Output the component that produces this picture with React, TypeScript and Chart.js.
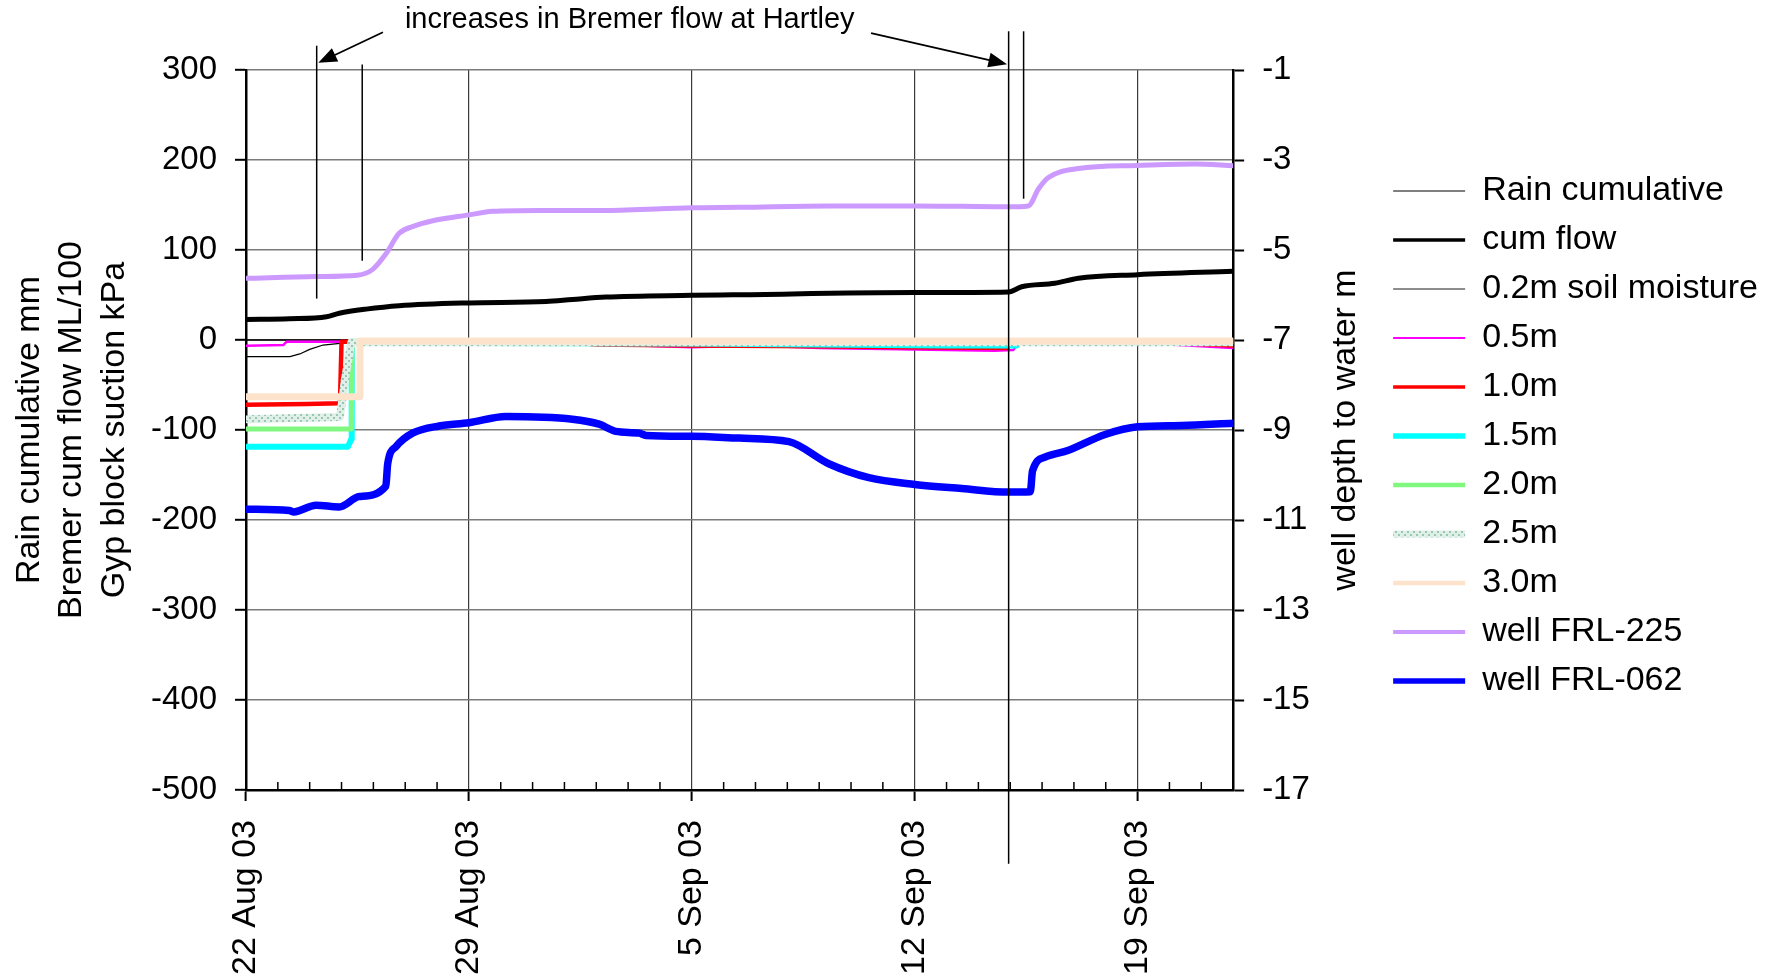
import React, { useEffect, useRef } from "react";
import { Chart, registerables } from "chart.js";

Chart.register(...registerables);

const FONT = "'Liberation Sans', Arial, Helvetica, sans-serif";

// x values are days after 22 Aug 2003
const xTickDays = [0, 7, 14, 21, 28];
const xTickLabels = ["22 Aug 03", "29 Aug 03", "5 Sep 03", "12 Sep 03", "19 Sep 03"];
const xMaxDay = 31;

const leftTitle = ["Rain cumulative mm", "Bremer cum flow ML/100", "Gyp block suction kPa"];
const rightTitle = "well depth to water m";

// left axis series (mm, ML/100, kPa)
const rainDays = [0, 31];
const rainVals = [0, 0];

const flowDays = [0, 1.36, 2.53, 2.93, 3.77, 4.81, 7, 9.42, 10.25, 11.3, 14, 15.3, 21, 23.95, 24.36, 25.4, 26.14, 28, 31];
const flowVals = [22.9, 23.6, 25.9, 29.7, 34.3, 38.1, 41.2, 42.7, 45, 47.7, 49.6, 50.2, 52.7, 53.4, 59.2, 63, 68.7, 72.6, 76.4];

const sm02Days = [0, 1.38, 1.69, 2.0, 2.42, 2.95, 3.2, 31];
const sm02Vals = [-18.5, -18.5, -15.5, -10.4, -5.6, -3.7, -2, -2];

const sm05Days = [0, 1.17, 1.27, 3, 8, 10.5, 13, 14, 16, 18, 20, 22, 23.5, 24.1, 24.3, 28, 29, 31];
const sm05Vals = [-6.3, -5.6, -2, -2, -2, -4, -7, -8, -6, -9, -10, -11, -12, -11, -1, -1, -5, -9];

const sm10Days = [0, 1.9, 2.95, 3.0, 10, 11, 14, 18, 21, 23.9, 24.1, 29, 31];
const sm10Vals = [-72, -71, -70.4, -2, -2, -5, -6, -7, -8, -9, -2, -3, -6];

const sm15Days = [0, 3.2, 3.31, 3.32, 14, 18, 22, 24.2, 24.3, 31];
const sm15Vals = [-118.5, -118.5, -110, -3, -4, -5, -6, -6, -1, -1];

const sm20Days = [0, 3.31, 3.33, 31];
const sm20Vals = [-99, -99, -1, -1];

const sm25Days = [0, 2.95, 3.05, 3.1, 3.25, 3.31, 31];
const sm25Vals = [-88, -85.5, -60, -45, -15, -2.5, -2.5];

const sm30Days = [0, 3.57, 3.58, 31];
const sm30Vals = [-63, -63, -1, -1];

// right axis series (well depth to water, m)
const w225Days = [0, 2.2, 3.5, 3.98, 4.39, 4.81, 5.23, 5.86, 7, 7.74, 9.2, 11.3, 14, 15.5, 18.3, 21, 23.95, 24.57, 24.89, 25.2, 26.14, 28, 29.8, 31];
const w225Vals = [-5.63, -5.59, -5.56, -5.43, -5.09, -4.63, -4.48, -4.35, -4.22, -4.14, -4.12, -4.12, -4.06, -4.05, -4.02, -4.02, -4.04, -4.02, -3.64, -3.39, -3.19, -3.12, -3.09, -3.13];

const w062Days = [0, 1.36, 1.5, 2.2, 2.93, 3.56, 4.39, 4.45, 4.71, 5.23, 6.07, 7, 8.16, 10.25, 11.09, 11.61, 12.35, 12.56, 14, 15.49, 17.05, 18.3, 19.56, 21, 22.48, 23.95, 24.63, 24.7, 25.1, 25.83, 26.98, 28, 29.38, 31];
const w062Vals = [-10.76, -10.79, -10.82, -10.67, -10.71, -10.48, -10.25, -9.75, -9.37, -9.07, -8.91, -8.84, -8.7, -8.76, -8.87, -9.03, -9.07, -9.12, -9.14, -9.18, -9.26, -9.75, -10.06, -10.21, -10.3, -10.38, -10.37, -9.91, -9.6, -9.45, -9.1, -8.93, -8.9, -8.85];

// annotation (in data units: day, left-axis value)
const annotText = "increases in Bremer flow at Hartley";
const annotTextAt = [12.05, 356];
const annotLineDays = [2.22, 3.65, 23.95, 24.42];
const annotLineTop = [327, 306, 343, 343];
const annotLineBottom = [46, 88, -582, 157];
const arrowFrom = [[4.3, 342], [19.63, 341]];
const arrowTo = [[2.27, 308], [23.9, 306.5]];

const pts = (d: number[], v: number[]) => d.map((x, i) => ({ x, y: v[i] }));

const overlayPlugin = {
  id: "overlay",
  afterDraw(chart: any) {
    const { ctx, chartArea } = chart;
    const xs = chart.scales.x;
    const ys = chart.scales.y;
    const y2 = chart.scales.y2;
    ctx.save();
    // daily minor ticks, inside
    ctx.strokeStyle = "#000";
    ctx.lineWidth = 1.5;
    for (let d = 1; d < xMaxDay; d++) {
      if (xTickDays.includes(d)) continue;
      const px = xs.getPixelForValue(d);
      ctx.beginPath();
      ctx.moveTo(px, chartArea.bottom);
      ctx.lineTo(px, chartArea.bottom - 8);
      ctx.stroke();
    }
    // vertical markers
    ctx.lineWidth = 1.5;
    annotLineDays.forEach((d, i) => {
      const px = xs.getPixelForValue(d);
      ctx.beginPath();
      ctx.moveTo(px, ys.getPixelForValue(annotLineTop[i]));
      ctx.lineTo(px, ys.getPixelForValue(annotLineBottom[i]));
      ctx.stroke();
    });
    // arrows
    arrowFrom.forEach((f, i) => {
      const fx = xs.getPixelForValue(f[0]);
      const fy = ys.getPixelForValue(f[1]);
      const tx = xs.getPixelForValue(arrowTo[i][0]);
      const ty = ys.getPixelForValue(arrowTo[i][1]);
      const a = Math.atan2(ty - fy, tx - fx);
      const L = 20;
      const w = 0.38;
      ctx.lineWidth = 1.8;
      ctx.beginPath();
      ctx.moveTo(fx, fy);
      ctx.lineTo(tx - Math.cos(a) * L * 0.8, ty - Math.sin(a) * L * 0.8);
      ctx.stroke();
      ctx.fillStyle = "#000";
      ctx.beginPath();
      ctx.moveTo(tx, ty);
      ctx.lineTo(tx - L * Math.cos(a - w), ty - L * Math.sin(a - w));
      ctx.lineTo(tx - L * Math.cos(a + w), ty - L * Math.sin(a + w));
      ctx.closePath();
      ctx.fill();
    });
    // annotation text
    ctx.fillStyle = "#000";
    ctx.font = `29px ${FONT}`;
    ctx.textAlign = "center";
    ctx.textBaseline = "middle";
    ctx.fillText(annotText, xs.getPixelForValue(annotTextAt[0]), ys.getPixelForValue(annotTextAt[1]));
    // right axis title, reading bottom to top
    ctx.font = `34px ${FONT}`;
    ctx.translate(y2.right - 33, (chartArea.top + chartArea.bottom) / 2);
    ctx.rotate(-Math.PI / 2);
    ctx.fillText(rightTitle, 0, 0);
    ctx.restore();
  },
};

export default function App() {
  const ref = useRef<HTMLCanvasElement | null>(null);

  useEffect(() => {
    document.body.style.margin = "0";
    const canvas = ref.current;
    if (!canvas) return;
    const ctx = canvas.getContext("2d")!;

    const pc = document.createElement("canvas");
    pc.width = 6;
    pc.height = 6;
    const g = pc.getContext("2d")!;
    g.fillStyle = "#e0efe7";
    g.fillRect(0, 0, 6, 6);
    g.fillStyle = "#98c8b2";
    g.fillRect(0, 0, 2, 2);
    g.fillRect(3, 3, 2, 2);
    const hatch = ctx.createPattern(pc, "repeat") as any;

    const styles = [
      { label: "Rain cumulative", color: "#000000", width: 1.5, lw: 1.2, axis: "y", smooth: false, d: pts(rainDays, rainVals) },
      { label: "cum flow", color: "#000000", width: 5, lw: 3.6, axis: "y", smooth: true, d: pts(flowDays, flowVals) },
      { label: "0.2m soil moisture", color: "#000000", width: 1.2, lw: 0.9, axis: "y", smooth: false, d: pts(sm02Days, sm02Vals) },
      { label: "0.5m", color: "#ff00ff", width: 2.5, lw: 2, axis: "y", smooth: false, d: pts(sm05Days, sm05Vals) },
      { label: "1.0m", color: "#ff0000", width: 4.5, lw: 3.6, axis: "y", smooth: false, d: pts(sm10Days, sm10Vals) },
      { label: "1.5m", color: "#00ffff", width: 6, lw: 5.7, axis: "y", smooth: false, d: pts(sm15Days, sm15Vals) },
      { label: "2.0m", color: "#80f880", width: 5, lw: 4.4, axis: "y", smooth: false, d: pts(sm20Days, sm20Vals) },
      { label: "2.5m", color: hatch, width: 8, lw: 7, axis: "y", smooth: false, d: pts(sm25Days, sm25Vals) },
      { label: "3.0m", color: "#fde3cb", width: 7, lw: 4.4, axis: "y", smooth: false, d: pts(sm30Days, sm30Vals) },
      { label: "well FRL-225", color: "#cc99ff", width: 5, lw: 3.8, axis: "y2", smooth: true, d: pts(w225Days, w225Vals) },
      { label: "well FRL-062", color: "#0000ff", width: 7.5, lw: 5.7, axis: "y2", smooth: true, d: pts(w062Days, w062Vals) },
    ];
    const n = styles.length;

    const chart = new Chart(ctx, {
      type: "line",
      data: {
        datasets: styles.map((s, i) => ({
          label: s.label,
          data: s.d,
          borderColor: s.color,
          backgroundColor: s.color,
          borderWidth: s.width,
          pointRadius: 0,
          tension: s.smooth ? 0.4 : 0,
          cubicInterpolationMode: s.smooth ? "monotone" : "default",
          fill: false,
          yAxisID: s.axis,
          borderCapStyle: "round",
          borderJoinStyle: "round",
          order: n - i,
        })) as any,
      },
      options: {
        animation: false,
        responsive: false,
        devicePixelRatio: 1,
        events: [],
        layout: { padding: { top: 70, right: 20, bottom: 0, left: 0 } },
        plugins: {
          tooltip: { enabled: false },
          legend: {
            display: true,
            position: "right",
            align: "center",
            fullSize: false,
            maxWidth: 600,
            title: { display: true, text: " ", font: { size: 10 }, padding: 0 },
            labels: {
              color: "#000",
              font: { family: FONT, size: 34 },
              usePointStyle: true,
              pointStyle: "line",
              pointStyleWidth: 72,
              boxWidth: 72,
              padding: 15,
              generateLabels: () =>
                styles.map((s, i) => ({
                  text: s.label,
                  fillStyle: s.color,
                  strokeStyle: s.color,
                  lineWidth: s.lw,
                  pointStyle: "line",
                  hidden: false,
                  datasetIndex: i,
                  lineCap: "butt",
                  fontColor: "#000",
                })) as any,
            },
          },
        },
        scales: {
          x: {
            type: "linear",
            position: "bottom",
            min: 0,
            max: xMaxDay,
            afterBuildTicks: (scale: any) => {
              scale.ticks = xTickDays.map((v) => ({ value: v }));
            },
            afterFit: (scale: any) => {
              scale.height = 189;
            },
            ticks: {
              callback: (v: any) => {
                const k = xTickDays.indexOf(Number(v));
                return k >= 0 ? xTickLabels[k] : "";
              },
              minRotation: 90,
              maxRotation: 90,
              padding: 19,
              color: "#000",
              font: { family: FONT, size: 34 },
              autoSkip: false,
            },
            grid: {
              color: "#3a3a3a",
              lineWidth: 1.2,
              tickColor: "#000",
              tickLength: 11,
              tickWidth: 2,
            },
            border: { color: "#000", width: 2.5 },
          },
          y: {
            type: "linear",
            position: "left",
            min: -500,
            max: 300,
            afterFit: (scale: any) => {
              scale.width = 246;
            },
            ticks: {
              stepSize: 100,
              padding: 18,
              color: "#000",
              font: { family: FONT, size: 33 },
            },
            grid: {
              color: "#7a7a7a",
              lineWidth: 1.6,
              tickColor: "#000",
              tickLength: 11,
              tickWidth: 2,
            },
            border: { color: "#000", width: 2.5 },
            title: {
              display: true,
              text: leftTitle,
              color: "#000",
              font: { family: FONT, size: 34, lineHeight: 1.25 },
              padding: { top: 8, bottom: 0 },
            },
          },
          y2: {
            type: "linear",
            position: "right",
            min: -17,
            max: -1,
            afterFit: (scale: any) => {
              scale.width = 145;
            },
            ticks: {
              stepSize: 2,
              padding: 18,
              color: "#000",
              font: { family: FONT, size: 33 },
            },
            grid: {
              drawOnChartArea: false,
              tickColor: "#000",
              tickLength: 11,
              tickWidth: 2,
            },
            border: { color: "#000", width: 2.5 },
          },
        },
      } as any,
      plugins: [overlayPlugin],
    });
    return () => chart.destroy();
  }, []);

  return (
    <div style={{ width: 1788, height: 979, background: "#fff" }}>
      <canvas ref={ref} width={1788} height={979} style={{ display: "block" }} />
    </div>
  );
}
